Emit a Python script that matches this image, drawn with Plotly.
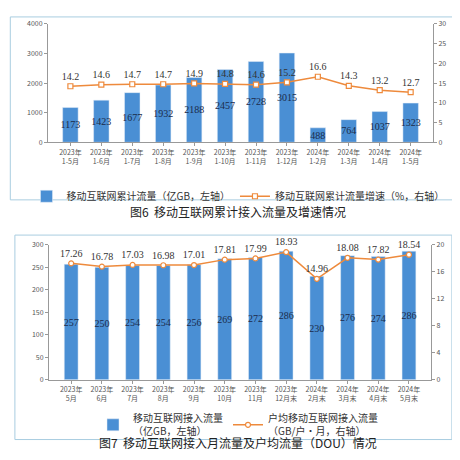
import plotly.graph_objects as go

cats1 = ["2023年<br>1-5月","2023年<br>1-6月","2023年<br>1-7月","2023年<br>1-8月","2023年<br>1-9月","2023年<br>1-10月","2023年<br>1-11月","2023年<br>1-12月","2024年<br>1-2月","2024年<br>1-3月","2024年<br>1-4月","2024年<br>1-5月"]
flow1 = [1173,1423,1677,1932,2188,2457,2728,3015,488,764,1037,1323]
growth1 = [14.2,14.6,14.7,14.7,14.9,14.8,14.6,15.2,16.6,14.3,13.2,12.7]

cats2 = ["2023年<br>5月","2023年<br>6月","2023年<br>7月","2023年<br>8月","2023年<br>9月","2023年<br>10月","2023年<br>11月","2023年<br>12月末","2024年<br>2月末","2024年<br>3月末","2024年<br>4月末","2024年<br>5月末"]
flow2 = [257,250,254,254,256,269,272,286,230,276,274,286]
dou2 = [17.26,16.78,17.03,16.98,17.01,17.81,17.99,18.93,14.96,18.08,17.82,18.54]

BLUE = "#4a8fd4"; ORANGE = "#ee8a3c"
F = "Noto Sans CJK SC"
bt = dict(size=10, color="#1b2b4a", family="Liberation Serif")
fig = go.Figure()
fig.add_bar(x=cats1, y=flow1, marker_color=BLUE, width=0.5, text=flow1, textposition="inside", textangle=0,
            constraintext="none", insidetextanchor="middle", textfont=bt,
            name="移动互联网累计流量（亿GB，左轴）", xaxis="x", yaxis="y", legend="legend")
fig.add_scatter(x=cats1, y=growth1, mode="lines+markers+text", text=[f"{v:.1f}" for v in growth1],
                textposition="top center", textfont=dict(size=10, color="#333", family="Liberation Serif"), cliponaxis=False,
                line=dict(color=ORANGE, width=1.5), marker=dict(symbol="square", size=5, color="white", line=dict(color=ORANGE, width=1.2)),
                name="移动互联网累计流量增速（%，右轴）", xaxis="x", yaxis="y2", legend="legend")
fig.add_bar(x=cats2, y=flow2, marker_color=BLUE, width=0.45, text=flow2, textposition="inside", textangle=0,
            constraintext="none", insidetextanchor="middle", textfont=bt,
            name="移动互联网接入流量<br>（亿GB，左轴）", xaxis="x2", yaxis="y3", legend="legend2")
fig.add_scatter(x=cats2, y=dou2, mode="lines+markers+text", text=[f"{v:.2f}" for v in dou2],
                textposition="top center", textfont=dict(size=10, color="#333", family="Liberation Serif"), cliponaxis=False,
                line=dict(color=ORANGE, width=1.5), marker=dict(symbol="circle", size=5, color="white", line=dict(color=ORANGE, width=1.2)),
                name="户均移动互联网接入流量<br>（GB/户·月，右轴）", xaxis="x2", yaxis="y4", legend="legend2")

ax = dict(showgrid=False, tickfont=dict(size=7, family=F, color="#555"), showline=True, linecolor="#999", ticks="outside", tickcolor="#999", ticklen=3)
fig.update_layout(
    width=460, height=460, margin=dict(l=0, r=0, t=0, b=0), paper_bgcolor="white", plot_bgcolor="white",
    font=dict(family=F), showlegend=True,
    xaxis=dict(**ax, domain=[0.087, 0.924], anchor="y"),
    yaxis=dict(**ax, domain=[0.715, 0.978], range=[0, 4000], dtick=1000, anchor="x"),
    yaxis2=dict(**ax, range=[0, 30], dtick=5, overlaying="y", side="right", anchor="x"),
    xaxis2=dict(**ax, domain=[0.089, 0.92], anchor="y3"),
    yaxis3=dict(**ax, domain=[0.187, 0.487], range=[0, 300], dtick=50, anchor="x2"),
    yaxis4=dict(**ax, range=[0, 20], dtick=4, overlaying="y3", side="right", anchor="x2"),
    legend=dict(orientation="h", x=0.5, xanchor="center", y=0.595, yanchor="middle", font=dict(size=10, color="#333"), bgcolor="rgba(0,0,0,0)"),
    legend2=dict(orientation="h", x=0.5, xanchor="center", y=1-400/460, yanchor="top", font=dict(size=10, color="#333"), bgcolor="rgba(0,0,0,0)"),
    shapes=[
        dict(type="rect", xref="paper", yref="paper", x0=0.005, x1=0.99, y0=1-190/460, y1=1-3/460, line=dict(color="#a9cde0", width=1)),
        dict(type="rect", xref="paper", yref="paper", x0=0.015, x1=0.965, y0=1-435/460, y1=1-226/460, line=dict(color="#a9cde0", width=1)),
    ],
    annotations=[
        dict(text="图6  移动互联网累计接入流量及增速情况", xref="paper", yref="paper", x=0.5, y=1-202/460, showarrow=False, font=dict(size=12, color="#222")),
        dict(text="图7  移动互联网接入月流量及户均流量（DOU）情况", xref="paper", yref="paper", x=0.5, y=1-449/460, showarrow=False, font=dict(size=12, color="#222")),
    ],
)
fig.write_html("out.html")
